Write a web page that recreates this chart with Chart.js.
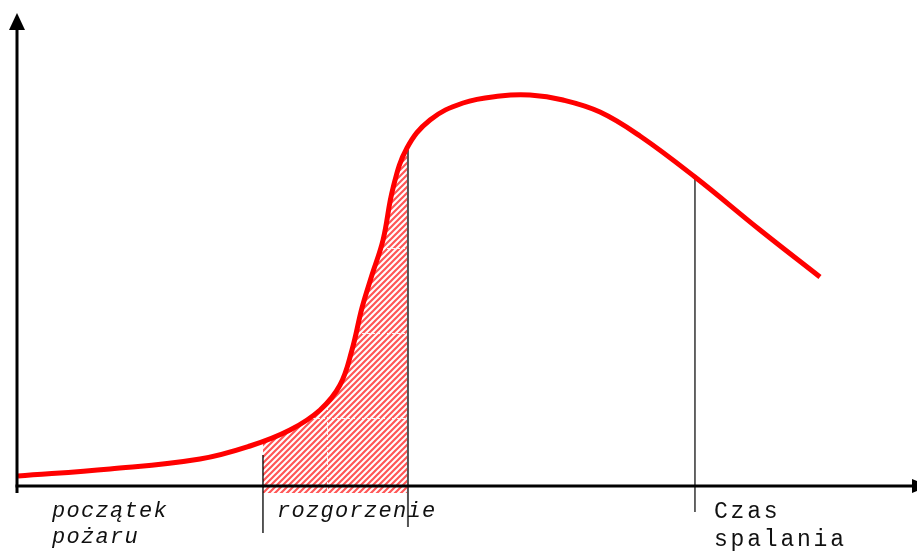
<!DOCTYPE html>
<html>
<head>
<meta charset="utf-8">
<script src="https://cdn.jsdelivr.net/npm/chart.js@4"></script>
<style>
  html, body { margin: 0; padding: 0; background: #fff; }
  canvas { display: block; }
</style>
</head>
<body>
<canvas id="c" width="917" height="554"></canvas>
<script>
// ---- data (time units / temperature units) ----
const curveTime = [0.11, 10.33, 20.33, 25.89, 30.33, 33.67, 35.89, 37.22, 38.33, 39.44, 40.67, 41.78, 43.33, 45.89, 49.56, 53.67, 57.0, 60.67, 64.78, 69.22, 75.33, 82.56, 89.22];
const curveTemp = [2.13, 3.62, 5.74, 8.51, 11.91, 16.17, 21.49, 28.94, 37.87, 44.89, 52.34, 63.40, 71.91, 77.87, 81.49, 82.98, 83.19, 82.13, 79.57, 74.47, 65.74, 54.47, 44.47];

// flashover (rozgorzenie) hatched band
const flashoverTime = [27.33, 43.44];
const flashoverEdgeTemp = [9.15, 71.9];
const flashoverFloor = -1.49;

// vertical marker lines: time, top, bottom
const markerTime = [27.33, 43.44, 75.33];
const markerTop = [6.6, 71.5, 65.74];
const markerBottom = [-10.0, -8.7, -5.53];

// labels under the time axis
const labelTexts = [["początek", "pożaru"], ["rozgorzenie"], ["Czas", "spalania"]];

// ---- build datasets ----
const curvePts = curveTime.map((t, i) => ({ x: t, y: curveTemp[i] }));
const hatchPts = [{ x: flashoverTime[0], y: flashoverEdgeTemp[0] }]
  .concat(curvePts.filter(p => p.x > flashoverTime[0] && p.x < flashoverTime[1]))
  .concat([{ x: flashoverTime[1], y: flashoverEdgeTemp[1] }]);

function makeHatch() {
  const s = 6;
  const pc = document.createElement('canvas');
  pc.width = s; pc.height = s;
  const g = pc.getContext('2d');
  g.strokeStyle = 'rgba(255,30,30,0.75)';
  g.lineWidth = 2.2;
  g.beginPath();
  g.moveTo(-1, s + 1); g.lineTo(s + 1, -1);
  g.moveTo(-1, 1); g.lineTo(1, -1);
  g.moveTo(s - 1, s + 1); g.lineTo(s + 1, s - 1);
  g.stroke();
  return document.getElementById('c').getContext('2d').createPattern(pc, 'repeat');
}
const hatch = makeHatch();

const markerStyles = [
  { color: '#000', width: 1.3 },
  { color: '#555', width: 2 },
  { color: '#000', width: 1.2 }
];
const markerSets = markerTime.map((t, i) => ({
  data: [{ x: t, y: markerTop[i] }, { x: t, y: markerBottom[i] }],
  borderColor: markerStyles[i].color,
  borderWidth: markerStyles[i].width,
  pointRadius: 0,
  tension: 0,
  fill: false,
  order: 5,
  clip: false
}));

const decor = {
  id: 'decor',
  beforeDraw(chart) {
    const c = chart.ctx;
    c.save();
    c.fillStyle = '#fff';
    c.fillRect(0, 0, chart.width, chart.height);
    c.restore();
  },
  afterDatasetDraw(chart, args) {
    if (args.index !== 1) return;
    // faint white grid lines showing through the hatch
    const c = chart.ctx, xs = chart.scales.x, ys = chart.scales.y;
    c.save();
    c.globalCompositeOperation = 'source-atop';
    c.strokeStyle = 'rgba(255,255,255,0.9)';
    c.lineWidth = 1;
    c.setLineDash([3, 2]);
    const xv = Math.round(xs.getPixelForValue(34.44)) + 0.5;
    c.beginPath();
    c.moveTo(xv, ys.getPixelForValue(20)); c.lineTo(xv, ys.getPixelForValue(flashoverFloor));
    [14.5, 32.6, 50.6].forEach(v => {
      const yv = Math.round(ys.getPixelForValue(v)) + 0.5;
      c.moveTo(xs.getPixelForValue(30), yv); c.lineTo(xs.getPixelForValue(flashoverTime[1]), yv);
    });
    c.stroke();
    c.restore();
  },
  afterDatasetsDraw(chart) {
    const c = chart.ctx, xs = chart.scales.x, ys = chart.scales.y;
    const ox = xs.getPixelForValue(0), oy = ys.getPixelForValue(0);
    c.save();
    c.strokeStyle = '#000';
    c.fillStyle = '#000';
    c.lineWidth = 3;
    // y axis
    c.beginPath();
    c.moveTo(ox, oy + 7); c.lineTo(ox, 28);
    c.stroke();
    c.beginPath();
    c.moveTo(ox, 13); c.lineTo(ox - 8, 30); c.lineTo(ox + 8, 30); c.closePath();
    c.fill();
    // x axis
    c.beginPath();
    c.moveTo(ox - 1.5, oy); c.lineTo(912, oy);
    c.stroke();
    c.beginPath();
    c.moveTo(912, oy - 7); c.lineTo(929, oy); c.lineTo(912, oy + 7); c.closePath();
    c.fill();

    // labels
    c.textBaseline = 'alphabetic';
    c.textAlign = 'left';
    c.fillStyle = '#111';
    try { c.letterSpacing = '1.3px'; } catch (e) {}
    c.font = 'italic 22px "Liberation Mono", "DejaVu Sans Mono", monospace';
    c.fillText(labelTexts[0][0], 52, 517);
    c.fillText(labelTexts[0][1], 52, 543);
    c.fillText(labelTexts[1][0], 277, 517);
    try { c.letterSpacing = '2.8px'; } catch (e) {}
    c.font = '23px "Liberation Mono", "DejaVu Sans Mono", monospace';
    c.fillText(labelTexts[2][0], 714, 518);
    c.fillText(labelTexts[2][1], 714, 546);
    c.restore();
  }
};

new Chart(document.getElementById('c'), {
  type: 'line',
  data: {
    datasets: [
      {
        data: curvePts,
        borderColor: '#ff0000',
        borderWidth: 5,
        pointRadius: 0,
        tension: 0.4,
        fill: false,
        order: 0,
        clip: false,
        borderCapStyle: 'butt'
      },
      {
        data: hatchPts,
        borderWidth: 0,
        borderColor: 'rgba(0,0,0,0)',
        backgroundColor: hatch,
        pointRadius: 0,
        tension: 0.4,
        fill: { value: flashoverFloor },
        order: 10,
        clip: false
      }
    ].concat(markerSets)
  },
  options: {
    responsive: false,
    animation: false,
    events: [],
    layout: { padding: 0 },
    plugins: { legend: { display: false }, tooltip: { enabled: false } },
    scales: {
      x: { type: 'linear', display: false, min: -17 / 9, max: 100 },
      y: { type: 'linear', display: false, min: -68 / 4.7, max: 486 / 4.7 }
    }
  },
  plugins: [decor]
});
</script>
</body>
</html>
